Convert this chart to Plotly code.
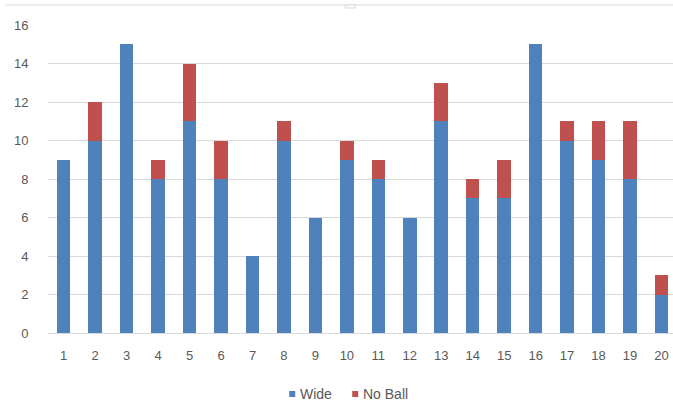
import plotly.graph_objects as go

# Over numbers and extras conceded per over
overs = [str(i) for i in range(1, 21)]
wide = [9, 10, 15, 8, 11, 8, 4, 10, 6, 9, 8, 6, 11, 7, 7, 15, 10, 9, 8, 2]
no_ball = [0, 2, 0, 1, 3, 2, 0, 1, 0, 1, 1, 0, 2, 1, 2, 0, 1, 2, 3, 1]
y_ticks = [0, 2, 4, 6, 8, 10, 12, 14, 16]
series_names = ["Wide", "No Ball"]
series_colors = ["#4f81bd", "#c0504d"]

W, H = 673, 403
left, top, bottom = 47.6, 25, 70
plot_w = W - left
plot_h = H - top - bottom
step = 31.48  # pixels per category


def px_x(x):
    return (x - left) / plot_w


def px_y(y):
    return (H - bottom - y) / plot_h


FONT = "Liberation Sans, Arial, sans-serif"
GRID = "#d9d9d9"
TXT = "#595959"

fig = go.Figure()
for name, vals, color in zip(series_names, [wide, no_ball], series_colors):
    fig.add_trace(go.Bar(x=list(range(1, 21)), y=vals, name=name,
                         marker=dict(color=color, line=dict(width=0))))

fig.update_layout(
    barmode="stack",
    bargap=0.57,
    width=W, height=H,
    margin=dict(l=left, r=0, t=top, b=bottom, pad=0),
    plot_bgcolor="white",
    paper_bgcolor="white",
    font=dict(family=FONT, size=12, color=TXT),
    showlegend=False,
    xaxis=dict(
        range=[0.5, 0.5 + plot_w / step],
        tickmode="array",
        tickvals=list(range(1, 21)),
        ticktext=overs,
        showgrid=False,
        showline=False,
        zeroline=False,
        ticks="outside", ticklen=10, tickcolor="rgba(0,0,0,0)",
        tickfont=dict(family=FONT, size=13, color=TXT),
        fixedrange=True,
    ),
    yaxis=dict(
        range=[0, 16],
        tickmode="array",
        tickvals=y_ticks,
        ticktext=[str(v) for v in y_ticks],
        showgrid=True, gridcolor=GRID, gridwidth=1,
        zeroline=True, zerolinecolor=GRID, zerolinewidth=1,
        showline=False,
        ticks="outside", ticklen=16, tickcolor="rgba(0,0,0,0)",
        tickfont=dict(family=FONT, size=13, color=TXT),
        fixedrange=True,
    ),
)

# Compact legend below the plot: small square swatch + label
legend_items = [(289, 298), (352, 361)]
for (sx, tx), name, color in zip(legend_items, series_names, series_colors):
    fig.add_shape(type="rect", xref="paper", yref="paper",
                  x0=px_x(sx), x1=px_x(sx + 6), y0=px_y(397), y1=px_y(391),
                  line=dict(width=0), fillcolor=color)
    fig.add_annotation(x=px_x(tx), y=px_y(394), xref="paper", yref="paper",
                       text=name, showarrow=False, xanchor="left",
                       yanchor="middle",
                       font=dict(family=FONT, size=14, color=TXT))

# Chart frame top edge with its small handle
fig.add_shape(type="line", xref="paper", yref="paper",
              x0=px_x(5), x1=1.0, y0=px_y(5), y1=px_y(5),
              line=dict(color=GRID, width=1))
fig.add_shape(type="rect", xref="paper", yref="paper",
              x0=px_x(345), x1=px_x(355), y0=px_y(8), y1=px_y(5),
              line=dict(color=GRID, width=1), fillcolor="white")

fig.write_html("out.html")
